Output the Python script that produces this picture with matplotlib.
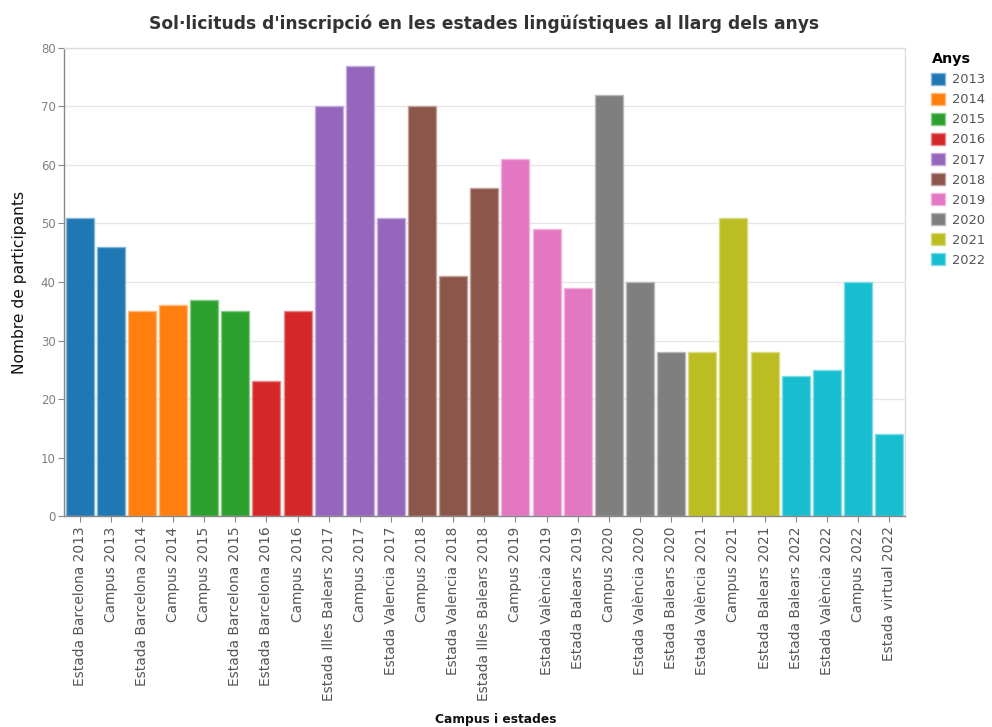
import matplotlib.pyplot as plt
import matplotlib.colors as mcolors
from matplotlib.patches import Patch

plt.rcParams['font.family'] = ['DejaVu Sans']

# Applications per stay, in the order they appear on the axis
stays = ['Estada Barcelona 2013', 'Campus 2013',
         'Estada Barcelona 2014', 'Campus 2014',
         'Campus 2015', 'Estada Barcelona 2015',
         'Estada Barcelona 2016', 'Campus 2016',
         'Estada Illes Balears 2017', 'Campus 2017', 'Estada Valencia 2017',
         'Campus 2018', 'Estada Valencia 2018', 'Estada Illes Balears 2018',
         'Campus 2019', 'Estada València 2019', 'Estada Balears 2019',
         'Campus 2020', 'Estada València 2020', 'Estada Balears 2020',
         'Estada València 2021', 'Campus 2021', 'Estada Balears 2021',
         'Estada Balears 2022', 'Estada València 2022', 'Campus 2022',
         'Estada virtual 2022']
participants = [51, 46, 35, 36, 37, 35, 23, 35, 70, 77, 51, 70, 41, 56,
                61, 49, 39, 72, 40, 28, 28, 51, 28, 24, 25, 40, 14]
stay_years = [2013, 2013, 2014, 2014, 2015, 2015, 2016, 2016,
              2017, 2017, 2017, 2018, 2018, 2018, 2019, 2019, 2019,
              2020, 2020, 2020, 2021, 2021, 2021, 2022, 2022, 2022, 2022]
years = list(range(2013, 2023))

palette = plt.get_cmap('tab10').colors
year_color = {y: palette[i] for i, y in enumerate(years)}


def lighter(c, amount=0.45):
    r, g, b = mcolors.to_rgb(c)
    return (r + (1 - r) * amount, g + (1 - g) * amount, b + (1 - b) * amount)


fig = plt.figure(figsize=(9.92, 7.27), dpi=100)
ax = fig.add_axes([0.0645, 0.2902, 0.8475, 0.6438])

x = range(len(stays))
fills = [year_color[y] for y in stay_years]
ax.bar(x, participants, width=0.9, color=fills,
       edgecolor=[lighter(c) for c in fills], linewidth=1.0, zorder=2)

ax.set_xlim(-0.5, len(stays) - 0.5)
ax.set_ylim(0, 80)
ax.set_yticks(range(0, 81, 10))
ax.set_xticks(list(x))
ax.set_xticklabels(stays, rotation=90, fontsize=9.9, color='#555555')
ax.tick_params(axis='y', labelsize=8.5, labelcolor='#808080', length=4,
               color='#888888', width=0.8, pad=2)
ax.tick_params(axis='x', length=4, color='#888888', width=0.8)

ax.grid(axis='y', color='#e6e6e6', linewidth=1, zorder=0)
ax.set_axisbelow(True)
for side in ['top', 'right']:
    ax.spines[side].set_color('#dddddd')
    ax.spines[side].set_linewidth(1)
ax.spines['left'].set_color('#888888')
ax.spines['bottom'].set_color('#888888')
ax.spines['left'].set_linewidth(1)
ax.spines['bottom'].set_linewidth(1)

ax.set_title("Sol·licituds d'inscripció en les estades lingüístiques al llarg dels anys",
             fontsize=12.3, fontweight='bold', color='#333333', pad=14)
ax.set_ylabel('Nombre de participants', fontsize=11.2, color='#111111', labelpad=10)
fig.text(0.5, 0.002, 'Campus i estades', ha='center', va='bottom',
         fontsize=8.8, fontweight='bold', color='#111111')

handles = [Patch(facecolor=year_color[y], edgecolor=lighter(year_color[y]),
                 label=str(y)) for y in years]
leg = fig.legend(handles=handles, title='Anys', loc='upper left',
                 bbox_to_anchor=(0.939, 0.928), frameon=False,
                 fontsize=9.4, title_fontproperties={'weight': 'bold', 'size': 10.3},
                 handlelength=1.05, handleheight=1.05, handletextpad=0.55,
                 labelspacing=0.5, borderaxespad=0, borderpad=0)
leg._legend_box.align = 'left'
for t in leg.get_texts():
    t.set_color('#555555')

fig.savefig('out.png', dpi=100)
